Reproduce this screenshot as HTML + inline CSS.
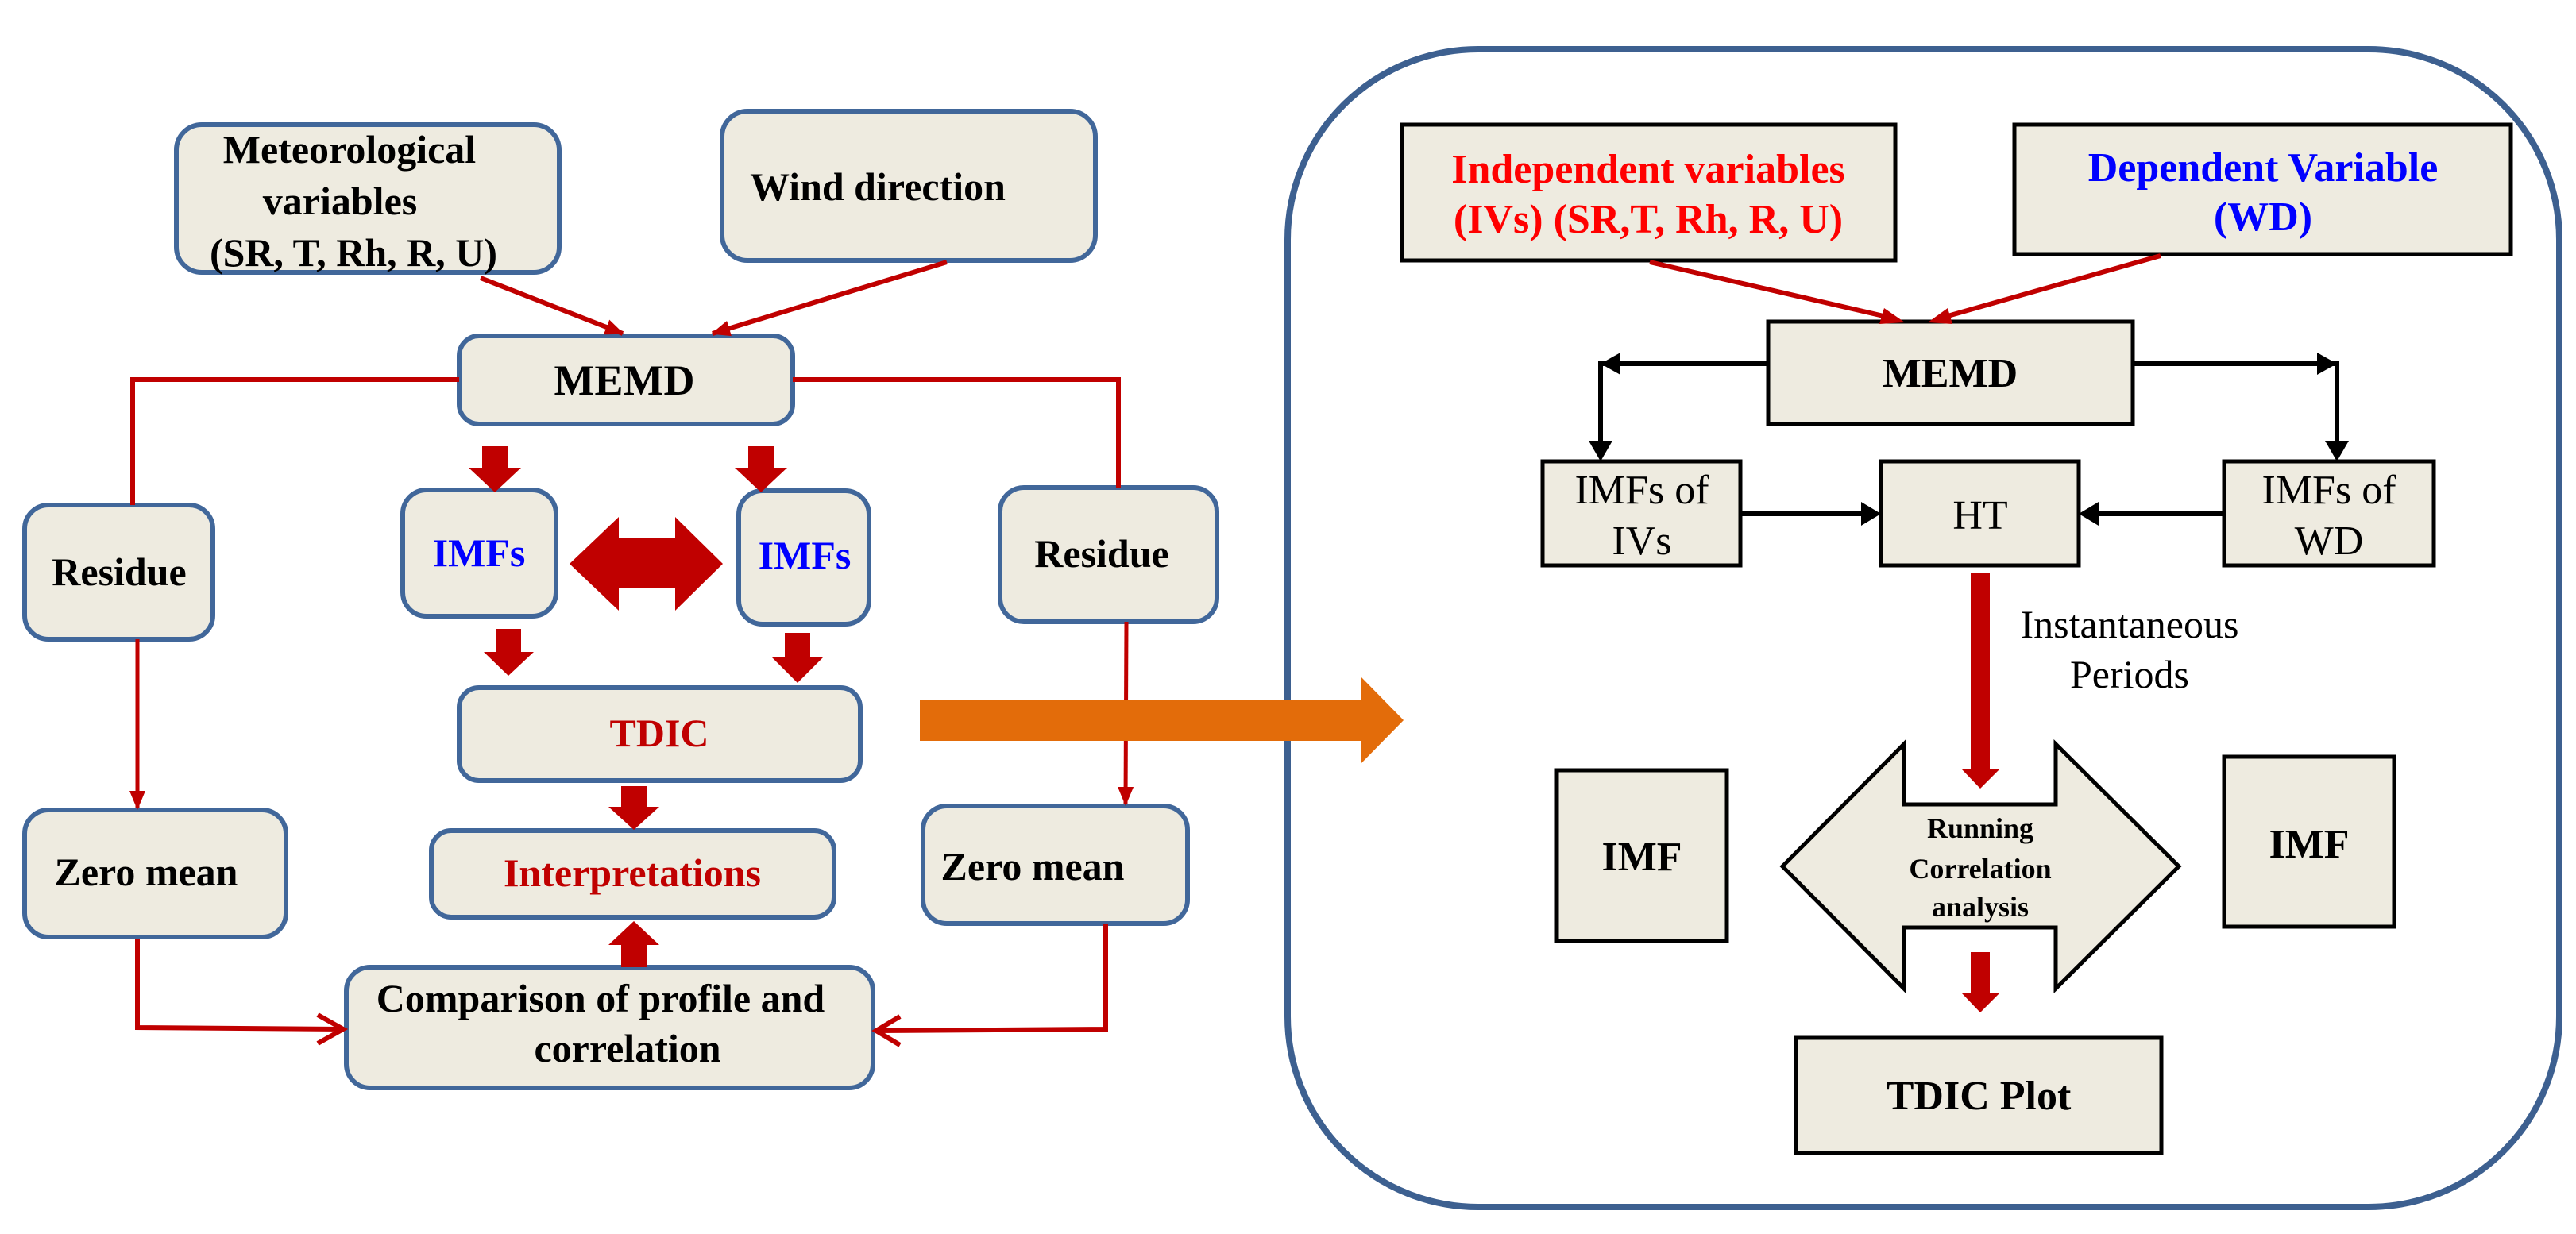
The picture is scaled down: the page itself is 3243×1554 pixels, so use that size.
<!DOCTYPE html>
<html><head><meta charset="utf-8"><style>html,body{margin:0;padding:0;background:#fff}svg{display:block}</style></head>
<body>
<svg width="3243" height="1554" viewBox="0 0 3243 1554" xmlns="http://www.w3.org/2000/svg" font-family="'Liberation Serif', serif">
<defs>
<marker id="rt" markerWidth="24" markerHeight="24" refX="22" refY="12" orient="auto" markerUnits="userSpaceOnUse" viewBox="0 0 24 24"><path d="M0,2 L24,12 L0,22 Z" fill="#c00000"/></marker>
</defs>
<g fill="#eeebe0" stroke="#41679a" stroke-width="6">
<rect x="222" y="157" width="482" height="186" rx="32"/>
<rect x="909" y="140" width="470" height="188" rx="32"/>
<rect x="578" y="423" width="420" height="111" rx="25"/>
<rect x="31" y="636" width="237" height="169" rx="30"/>
<rect x="507" y="617" width="193" height="159" rx="30"/>
<rect x="930" y="618" width="164" height="168" rx="30"/>
<rect x="1259" y="614" width="273" height="169" rx="30"/>
<rect x="578" y="866" width="505" height="117" rx="25"/>
<rect x="543" y="1046" width="507" height="109" rx="25"/>
<rect x="31" y="1020" width="329" height="160" rx="30"/>
<rect x="1162" y="1015" width="333" height="148" rx="30"/>
<rect x="436" y="1218" width="663" height="152" rx="30"/>
</g>
<g stroke="#c00000" stroke-width="6" fill="none">
<polyline points="578,478 167,478 167,636"/>
<polyline points="998,478 1408,478 1408,614"/>
<line x1="173" y1="805" x2="173" y2="1018" marker-end="url(#rt)" stroke-width="5"/>
<line x1="1418" y1="783" x2="1417" y2="1013" marker-end="url(#rt)" stroke-width="5"/>
<polyline points="173,1183 173,1294 432,1296"/>
<polyline points="400,1278 432,1296 400,1314"/>
<polyline points="1392,1163 1392,1296 1103,1298"/>
<polyline points="1133,1280 1103,1298 1133,1316"/>
<line x1="605" y1="350" x2="784" y2="420" marker-end="url(#rt)"/>
<line x1="1192" y1="330" x2="897" y2="420" marker-end="url(#rt)"/>
</g>
<g fill="#c00000">
<polygon points="607,562 639,562 639,589 656,589 623,620 590,589 607,589"/>
<polygon points="942,562 974,562 974,589 991,589 958,620 925,589 942,589"/>
<polygon points="625,792 656,792 656,821 672,821 640,851 609,821 625,821"/>
<polygon points="988,797 1020,797 1020,828 1036,828 1004,860 972,828 988,828"/>
<polygon points="782,990 814,990 814,1016 830,1016 798,1045 766,1016 782,1016"/>
<polygon points="782,1218 814,1218 814,1190 830,1190 798,1160 766,1190 782,1190"/>
<polygon points="717,710 779,651 779,678 850,678 850,651 910,710 850,769 850,740 779,740 779,769"/>
</g>
<rect x="1621" y="62" width="1601" height="1458" rx="240" fill="none" stroke="#3d6090" stroke-width="8"/>
<polygon points="1158,881 1713,881 1713,852 1767,907 1713,962 1713,933 1158,933" fill="#e36c0a"/>
<g font-weight="bold" font-size="50" fill="#000" text-anchor="middle">
<text x="440" y="205">Meteorological</text>
<text x="428" y="270">variables</text>
<text x="445" y="335">(SR, T, Rh, R, U)</text>
<text x="1105" y="252">Wind direction</text>
<text x="786" y="497" font-size="54">MEMD</text>
<text x="150" y="737">Residue</text>
<text x="1387" y="714">Residue</text>
<text x="603" y="713" fill="#0000ff">IMFs</text>
<text x="1013" y="716" fill="#0000ff">IMFs</text>
<text x="830" y="940" fill="#c00000">TDIC</text>
<text x="796" y="1116" fill="#c00000">Interpretations</text>
<text x="184" y="1115">Zero mean</text>
<text x="1300" y="1108">Zero mean</text>
<text x="756" y="1274">Comparison of profile and</text>
<text x="790" y="1337">correlation</text>
</g>
<g fill="#eeebe0" stroke="#000" stroke-width="5">
<rect x="1765" y="157" width="621" height="171"/>
<rect x="2536" y="157" width="625" height="163"/>
<rect x="2226" y="405" width="459" height="129"/>
<rect x="1942" y="581" width="249" height="131"/>
<rect x="2368" y="581" width="249" height="131"/>
<rect x="2800" y="581" width="264" height="131"/>
<rect x="1960" y="970" width="214" height="215"/>
<rect x="2800" y="953" width="214" height="214"/>
<rect x="2261" y="1307" width="460" height="145"/>
<polygon points="2244,1091 2397,937 2397,1013 2588,1013 2588,937 2743,1091 2588,1245 2588,1168 2397,1168 2397,1245"/>
</g>
<g stroke="#000" stroke-width="6" fill="none">
<polyline points="2226,458 2015,458 2015,560"/>
<polyline points="2685,458 2942,458 2942,560"/>
<line x1="2191" y1="647" x2="2345" y2="647"/>
<line x1="2800" y1="647" x2="2640" y2="647"/>
</g>
<g fill="#000">
<polygon points="2000,555 2030,555 2015,581"/>
<polygon points="2927,555 2957,555 2942,581"/>
<polygon points="2040,444 2040,472 2015,458"/>
<polygon points="2917,444 2917,472 2942,458"/>
<polygon points="2343,632 2343,662 2368,647"/>
<polygon points="2642,632 2642,662 2617,647"/>
</g>
<g stroke="#c00000" stroke-width="6">
<line x1="2077" y1="330" x2="2380" y2="400"/>
<line x1="2720" y1="322" x2="2445" y2="400"/>
</g>
<g fill="#c00000">
<polygon points="2398,406 2372,388 2366,408"/>
<polygon points="2427,406 2452,388 2458,408"/>
<polygon points="2481,722 2505,722 2505,969 2517,969 2493,993 2470,969 2481,969"/>
<polygon points="2481,1199 2505,1199 2505,1251 2517,1251 2493,1275 2470,1251 2481,1251"/>
</g>
<g font-size="52" text-anchor="middle">
<text x="2075" y="230" font-weight="bold" fill="#ff0000">Independent variables</text>
<text x="2075" y="293" font-weight="bold" fill="#ff0000">(IVs) (SR,T, Rh, R, U)</text>
<text x="2849" y="228" font-weight="bold" fill="#0000ff">Dependent Variable</text>
<text x="2849" y="290" font-weight="bold" fill="#0000ff">(WD)</text>
<text x="2455" y="487" font-weight="bold">MEMD</text>
<text x="2067" y="634">IMFs of</text>
<text x="2067" y="698">IVs</text>
<text x="2493" y="666">HT</text>
<text x="2932" y="634">IMFs of</text>
<text x="2932" y="698">WD</text>
<text x="2681" y="803" font-size="50">Instantaneous</text>
<text x="2681" y="866" font-size="50">Periods</text>
<text x="2067" y="1096" font-weight="bold">IMF</text>
<text x="2907" y="1080" font-weight="bold">IMF</text>
<text x="2491" y="1397" font-weight="bold">TDIC Plot</text>
<text x="2493" y="1055" font-size="36" font-weight="bold">Running</text>
<text x="2493" y="1106" font-size="36" font-weight="bold">Correlation</text>
<text x="2493" y="1154" font-size="36" font-weight="bold">analysis</text>
</g>
</svg>
</body></html>
